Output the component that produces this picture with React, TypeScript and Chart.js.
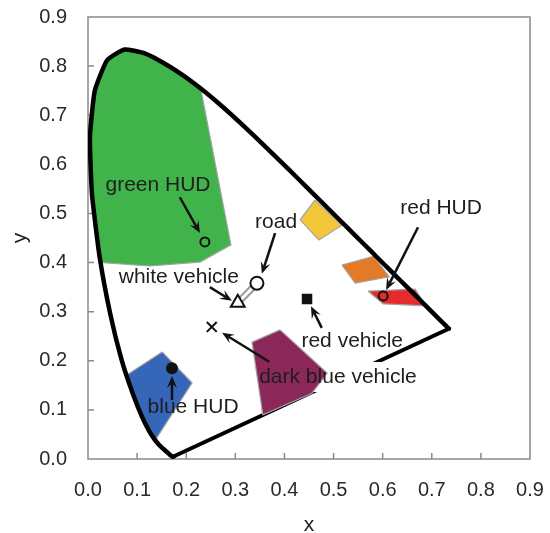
import React, { useEffect, useRef } from "react";
import { Chart, registerables } from "chart.js";

Chart.register(...registerables);

type Pt = [number, number];

// Axis range and tick step (chromaticity coordinates)
const AXIS_MIN = 0;
const AXIS_MAX = 0.9;
const AXIS_STEP = 0.1;
const X_TITLE = "x";
const Y_TITLE = "y";

// CIE 1931 spectral locus, 380–700 nm
const SPECTRAL_LOCUS: Pt[] = [
  [0.1741, 0.005], [0.1738, 0.0049], [0.1733, 0.0048], [0.1726, 0.0048],
  [0.1714, 0.0051], [0.1689, 0.0069], [0.1644, 0.0109], [0.1566, 0.0177],
  [0.151, 0.0227], [0.144, 0.0297], [0.1355, 0.0399], [0.1241, 0.0578],
  [0.1096, 0.0868], [0.0913, 0.1327], [0.0687, 0.2007], [0.0454, 0.295],
  [0.0235, 0.4127], [0.0082, 0.5384], [0.0039, 0.6548], [0.0139, 0.7502],
  [0.0389, 0.812], [0.0743, 0.8338], [0.1142, 0.8262], [0.1547, 0.8059],
  [0.1929, 0.7816], [0.2296, 0.7543], [0.2658, 0.7243], [0.3016, 0.6923],
  [0.3373, 0.6589], [0.3731, 0.6245], [0.4087, 0.5896], [0.4441, 0.5547],
  [0.4788, 0.5202], [0.5125, 0.4866], [0.5448, 0.4544], [0.5752, 0.4242],
  [0.6029, 0.3965], [0.627, 0.3725], [0.6482, 0.3514], [0.6658, 0.334],
  [0.6915, 0.3083], [0.7079, 0.292], [0.719, 0.2809], [0.726, 0.274],
  [0.73, 0.27], [0.7334, 0.2666], [0.7347, 0.2653],
];

// Line of purples joining both ends of the locus
const PURPLE_LINE: Pt[] = [[0.7347, 0.2653], [0.1741, 0.005]];

// Colour regions
const GREEN_REGION: Pt[] = [
  [0.2296, 0.7543], [0.1929, 0.7816], [0.1547, 0.8059], [0.1142, 0.8262],
  [0.0743, 0.8338], [0.0389, 0.812], [0.0139, 0.7502], [0.0039, 0.6548],
  [0.0082, 0.5384], [0.0235, 0.4127], [0.024, 0.4], [0.126, 0.393],
  [0.228, 0.401], [0.291, 0.436],
];
const YELLOW_REGION: Pt[] = [[0.462, 0.527], [0.517, 0.476], [0.47, 0.446], [0.432, 0.487]];
const ORANGE_REGION: Pt[] = [[0.517, 0.395], [0.582, 0.413], [0.613, 0.371], [0.544, 0.358]];
const RED_REGION: Pt[] = [[0.57, 0.342], [0.666, 0.346], [0.688, 0.312], [0.601, 0.316]];
const BLUE_REGION: Pt[] = [
  [0.151, 0.218], [0.212, 0.155], [0.14, 0.043], [0.1355, 0.0399],
  [0.1241, 0.0578], [0.1096, 0.0868], [0.0913, 0.1327], [0.079, 0.171],
];
const PURPLE_REGION: Pt[] = [[0.391, 0.263], [0.334, 0.238], [0.356, 0.09], [0.456, 0.134], [0.487, 0.175]];

// Chromaticity of each measured stimulus
const GREEN_HUD: Pt = [0.238, 0.442];
const ROAD: Pt = [0.344, 0.358];
const WHITE_VEHICLE: Pt = [0.305, 0.318];
const DARK_BLUE_VEHICLE: Pt = [0.252, 0.269];
const RED_VEHICLE: Pt = [0.446, 0.326];
const RED_HUD: Pt = [0.601, 0.332];
const BLUE_HUD: Pt = [0.171, 0.185];

// Annotation texts, their centres, and arrows (from -> to)
const NOTE_TEXT = ["green HUD", "road", "white vehicle", "red HUD", "red vehicle", "dark blue vehicle", "blue HUD"];
const NOTE_POS: Pt[] = [
  [0.1425, 0.558], [0.383, 0.483], [0.185, 0.371], [0.719, 0.511],
  [0.538, 0.24], [0.509, 0.167], [0.214, 0.106],
];
const ARROW_FROM: Pt[] = [
  [0.187, 0.533], [0.381, 0.46], [0.248, 0.35], [0.672, 0.472],
  [0.476, 0.267], [0.369, 0.198], [0.171, 0.12],
];
const ARROW_TO: Pt[] = [
  [0.228, 0.46], [0.354, 0.377], [0.293, 0.322], [0.607, 0.344],
  [0.454, 0.311], [0.273, 0.257], [0.171, 0.169],
];
// Notes that sit on an opaque white box
const BOXED_NOTES = ["dark blue vehicle"];

const FONT = "'Liberation Sans', Arial, Helvetica, sans-serif";
const TEXT_COLOR = "#1e1e1e";
const FRAME_COLOR = "#8a8a8a";

const toXY = (pts: Pt[]) => pts.map(([x, y]) => ({ x, y }));

function region(label: string, pts: Pt[], color: string, order: number) {
  return {
    label,
    data: toXY([...pts, pts[0]]),
    showLine: true,
    fill: "shape",
    backgroundColor: color,
    borderColor: "#a3a3a3",
    borderWidth: 1.2,
    pointRadius: 0,
    order,
  };
}

function curve(label: string, pts: Pt[], color: string, width: number, order: number, tension = 0) {
  return {
    label,
    data: toXY(pts),
    showLine: true,
    fill: false,
    borderColor: color,
    borderWidth: width,
    borderJoinStyle: "round",
    borderCapStyle: "round",
    tension,
    pointRadius: 0,
    order,
  };
}

function marker(label: string, p: Pt, style: string, radius: number, fill: string, order: number) {
  return {
    label,
    data: toXY([p]),
    pointStyle: style,
    pointRadius: radius,
    pointBackgroundColor: fill,
    pointBorderColor: "#111",
    pointBorderWidth: 2,
    order,
  };
}

function drawArrow(ctx: CanvasRenderingContext2D, x1: number, y1: number, x2: number, y2: number) {
  const a = Math.atan2(y2 - y1, x2 - x1);
  const c = Math.cos(a);
  const s = Math.sin(a);
  const head = 12;
  const wing = 5;
  ctx.beginPath();
  ctx.moveTo(x1, y1);
  ctx.lineTo(x2 - c * head * 0.6, y2 - s * head * 0.6);
  ctx.stroke();
  ctx.beginPath();
  ctx.moveTo(x2, y2);
  ctx.lineTo(x2 - head * c + wing * s, y2 - head * s - wing * c);
  ctx.lineTo(x2 - head * 0.6 * c, y2 - head * 0.6 * s);
  ctx.lineTo(x2 - head * c - wing * s, y2 - head * s + wing * c);
  ctx.closePath();
  ctx.fill();
}

const diagramPlugin = {
  id: "diagramDecor",
  beforeDatasetsDraw(chart: any) {
    const { ctx, chartArea: a, scales } = chart;
    ctx.save();
    ctx.strokeStyle = FRAME_COLOR;
    ctx.lineWidth = 1.5;
    ctx.strokeRect(a.left, a.top, a.right - a.left, a.bottom - a.top);
    ctx.beginPath();
    for (let v = AXIS_MIN + AXIS_STEP; v < AXIS_MAX - 1e-6; v += AXIS_STEP) {
      const px = scales.x.getPixelForValue(v);
      ctx.moveTo(px, a.bottom);
      ctx.lineTo(px, a.bottom - 6);
      const py = scales.y.getPixelForValue(v);
      ctx.moveTo(a.left, py);
      ctx.lineTo(a.left + 6, py);
    }
    ctx.stroke();
    ctx.restore();
  },
  afterDatasetDraw(chart: any, args: any) {
    if (chart.data.datasets[args.index].label !== "line of purples") return;
    const { ctx, scales } = chart;
    ctx.save();
    ctx.font = `21px ${FONT}`;
    ctx.fillStyle = "#ffffff";
    NOTE_TEXT.forEach((t, i) => {
      if (!BOXED_NOTES.includes(t)) return;
      const w = ctx.measureText(t).width + 6;
      const cx = scales.x.getPixelForValue(NOTE_POS[i][0]);
      const cy = scales.y.getPixelForValue(NOTE_POS[i][1]);
      ctx.fillRect(cx - w / 2, cy - 15, w, 30);
    });
    ctx.restore();
  },
  afterDatasetsDraw(chart: any) {
    const { ctx, scales, chartArea: a } = chart;
    ctx.save();
    ctx.strokeStyle = "#111";
    ctx.fillStyle = "#111";
    ctx.lineWidth = 2.5;
    ARROW_FROM.forEach((f, i) => {
      const t = ARROW_TO[i];
      drawArrow(
        ctx,
        scales.x.getPixelForValue(f[0]),
        scales.y.getPixelForValue(f[1]),
        scales.x.getPixelForValue(t[0]),
        scales.y.getPixelForValue(t[1])
      );
    });
    ctx.fillStyle = TEXT_COLOR;
    ctx.font = `21px ${FONT}`;
    ctx.textAlign = "center";
    ctx.textBaseline = "middle";
    NOTE_TEXT.forEach((t, i) => {
      ctx.fillText(t, scales.x.getPixelForValue(NOTE_POS[i][0]), scales.y.getPixelForValue(NOTE_POS[i][1]));
    });
    // axis titles
    ctx.font = `21px ${FONT}`;
    ctx.textBaseline = "alphabetic";
    ctx.fillText(X_TITLE, (a.left + a.right) / 2, a.bottom + 72);
    ctx.translate(a.left - 68, (a.top + a.bottom) / 2);
    ctx.rotate(-Math.PI / 2);
    ctx.textBaseline = "middle";
    ctx.fillText(Y_TITLE, 0, 0);
    ctx.restore();
  },
};

export default function App() {
  const ref = useRef<HTMLCanvasElement | null>(null);

  useEffect(() => {
    if (!ref.current) return;
    Chart.defaults.font.family = FONT;
    const tickOpts = (pad: number) => ({
      stepSize: AXIS_STEP,
      padding: pad,
      color: "#2a2a2a",
      font: { size: 20 },
      callback: (v: any) => Number(v).toFixed(1),
    });
    const chart = new Chart(ref.current, {
      type: "scatter",
      data: {
        datasets: [
          marker("blue HUD", BLUE_HUD, "circle", 5, "#111", 1),
          marker("red HUD", RED_HUD, "circle", 4.5, "rgba(0,0,0,0)", 1),
          marker("red vehicle", RED_VEHICLE, "rect", 6, "#111", 1),
          marker("dark blue vehicle", DARK_BLUE_VEHICLE, "crossRot", 7, "#111", 1),
          marker("white vehicle", WHITE_VEHICLE, "triangle", 8, "#ffffff", 1),
          marker("road", ROAD, "circle", 6.5, "#ffffff", 1),
          marker("green HUD", GREEN_HUD, "circle", 4.5, "rgba(0,0,0,0)", 1),
          curve("road link inner", [WHITE_VEHICLE, ROAD], "#ffffff", 3, 4),
          curve("road link outer", [WHITE_VEHICLE, ROAD], "#9a9a9a", 7, 5),
          region("purple", PURPLE_REGION, "#8c2759", 6),
          curve("line of purples", PURPLE_LINE, "#000000", 4, 7),
          curve("spectral locus", SPECTRAL_LOCUS, "#000000", 4.5, 8, 0.15),
          region("blue", BLUE_REGION, "#3566b8", 10),
          region("red", RED_REGION, "#e52b2b", 10),
          region("orange", ORANGE_REGION, "#e57a26", 10),
          region("yellow", YELLOW_REGION, "#f4c63a", 10),
          region("green", GREEN_REGION, "#40b44b", 10),
        ] as any,
      },
      options: {
        animation: false,
        responsive: false,
        events: [],
        layout: { padding: { left: 0, top: 17, right: 20, bottom: 0 } },
        plugins: { legend: { display: false }, tooltip: { enabled: false } },
        scales: {
          x: {
            type: "linear",
            min: AXIS_MIN,
            max: AXIS_MAX,
            grid: { display: false, drawTicks: false },
            border: { display: false },
            ticks: tickOpts(19),
            afterFit: (s: any) => {
              s.height = 74;
              s.paddingLeft = 0;
              s.paddingRight = 0;
            },
          },
          y: {
            type: "linear",
            min: AXIS_MIN,
            max: AXIS_MAX,
            grid: { display: false, drawTicks: false },
            border: { display: false },
            ticks: tickOpts(21),
            afterFit: (s: any) => {
              s.width = 88;
              s.paddingTop = 0;
              s.paddingBottom = 0;
            },
          },
        },
      } as any,
      plugins: [diagramPlugin as any],
    });
    return () => chart.destroy();
  }, []);

  return (
    <div style={{ position: "absolute", left: 0, top: 0, width: 550, height: 533, background: "#fff" }}>
      <canvas ref={ref} width={550} height={533} style={{ display: "block" }} />
    </div>
  );
}
